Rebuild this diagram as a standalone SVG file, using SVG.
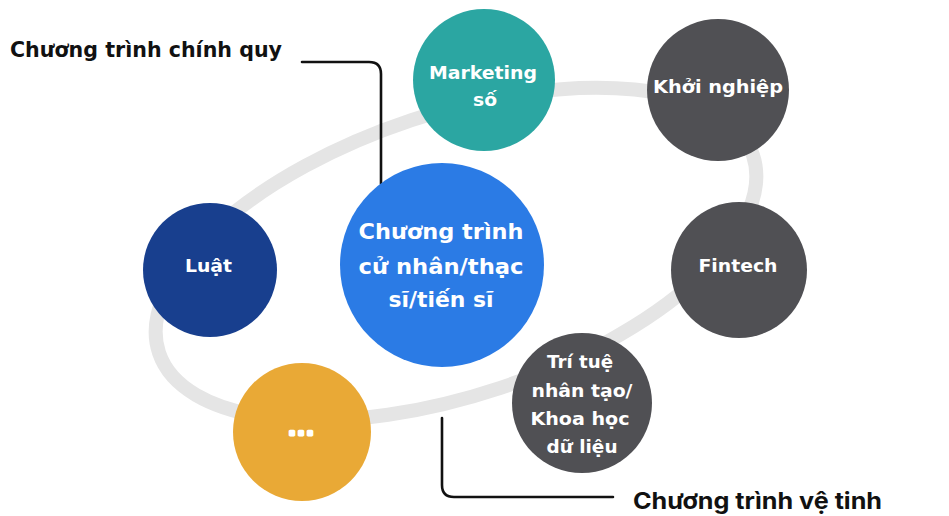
<svg xmlns="http://www.w3.org/2000/svg" width="949" height="516" viewBox="0 0 949 516">
<style>
.ring{fill:none;stroke:#e5e5e5;stroke-width:14}
.conn{fill:none;stroke:#111;stroke-width:2.6;stroke-linecap:round}
.nt{font-family:"DejaVu Sans","Noto Sans",sans-serif;font-weight:700;fill:#fff;text-anchor:middle}
.lbl{font-weight:700;fill:#111}
</style>
<rect width="949" height="516" fill="#fff"/>
<g id="ring">
<ellipse class="ring" cx="456" cy="254" rx="313" ry="141" transform="rotate(-18.4 456 254)"/>
</g>
<g id="connectors">
<path class="conn" d="M302 62 H369 Q381 62 381 74 V184"/>
<path class="conn" d="M442 418 V485 Q442 497 454 497 H613"/>
</g>
<g id="node-marketing">
<circle cx="484" cy="80" r="71" fill="#2ba6a2"/>
<text class="nt" x="483" y="79" font-size="18" textLength="108" lengthAdjust="spacingAndGlyphs">Marketing</text>
<text class="nt" x="485" y="106" font-size="18" textLength="24" lengthAdjust="spacingAndGlyphs">số</text>
</g>
<g id="node-khoinghiep">
<circle cx="718" cy="90" r="71" fill="#505054"/>
<text class="nt" x="718" y="93" font-size="18" textLength="130" lengthAdjust="spacingAndGlyphs">Khởi nghiệp</text>
</g>
<g id="node-fintech">
<circle cx="739" cy="270" r="68" fill="#505054"/>
<text class="nt" x="738" y="272" font-size="18" textLength="79" lengthAdjust="spacingAndGlyphs">Fintech</text>
</g>
<g id="node-ai">
<circle cx="582" cy="403" r="70" fill="#505054"/>
<text class="nt" x="580" y="368" font-size="18" textLength="66" lengthAdjust="spacingAndGlyphs">Trí tuệ</text>
<text class="nt" x="582" y="397" font-size="18" textLength="101" lengthAdjust="spacingAndGlyphs">nhân tạo/</text>
<text class="nt" x="580" y="425" font-size="18" textLength="99" lengthAdjust="spacingAndGlyphs">Khoa học</text>
<text class="nt" x="582" y="453" font-size="18" textLength="71" lengthAdjust="spacingAndGlyphs">dữ liệu</text>
</g>
<g id="node-luat">
<circle cx="210" cy="270" r="67" fill="#183f8e"/>
<text class="nt" x="208.5" y="272" font-size="18" textLength="47" lengthAdjust="spacingAndGlyphs">Luật</text>
</g>
<g id="node-more">
<circle cx="302" cy="432" r="69" fill="#e9a936"/>
<text class="nt" x="292 301 310" y="435" font-size="20" stroke="#fff" stroke-width="3" stroke-linejoin="round">...</text>
</g>
<g id="node-center">
<circle cx="442" cy="265" r="102" fill="#2b7be5"/>
<text class="nt" x="441" y="239" font-size="21" textLength="165" lengthAdjust="spacingAndGlyphs">Chương trình</text>
<text class="nt" x="441" y="274" font-size="21" textLength="165" lengthAdjust="spacingAndGlyphs">cử nhân/thạc</text>
<text class="nt" x="441" y="307" font-size="21" textLength="105" lengthAdjust="spacingAndGlyphs">sĩ/tiến sĩ</text>
</g>
<g id="label-chinhquy">
<text class="lbl" x="10" y="57" font-family="DejaVu Sans, sans-serif" font-size="21" textLength="272" lengthAdjust="spacingAndGlyphs">Chương trình chính quy</text>
</g>
<g id="label-vetinh">
<text class="lbl" x="633" y="509" font-family="Inter, Roboto, sans-serif" font-size="23" textLength="249" lengthAdjust="spacingAndGlyphs">Chương trình vệ tinh</text>
</g>
</svg>
